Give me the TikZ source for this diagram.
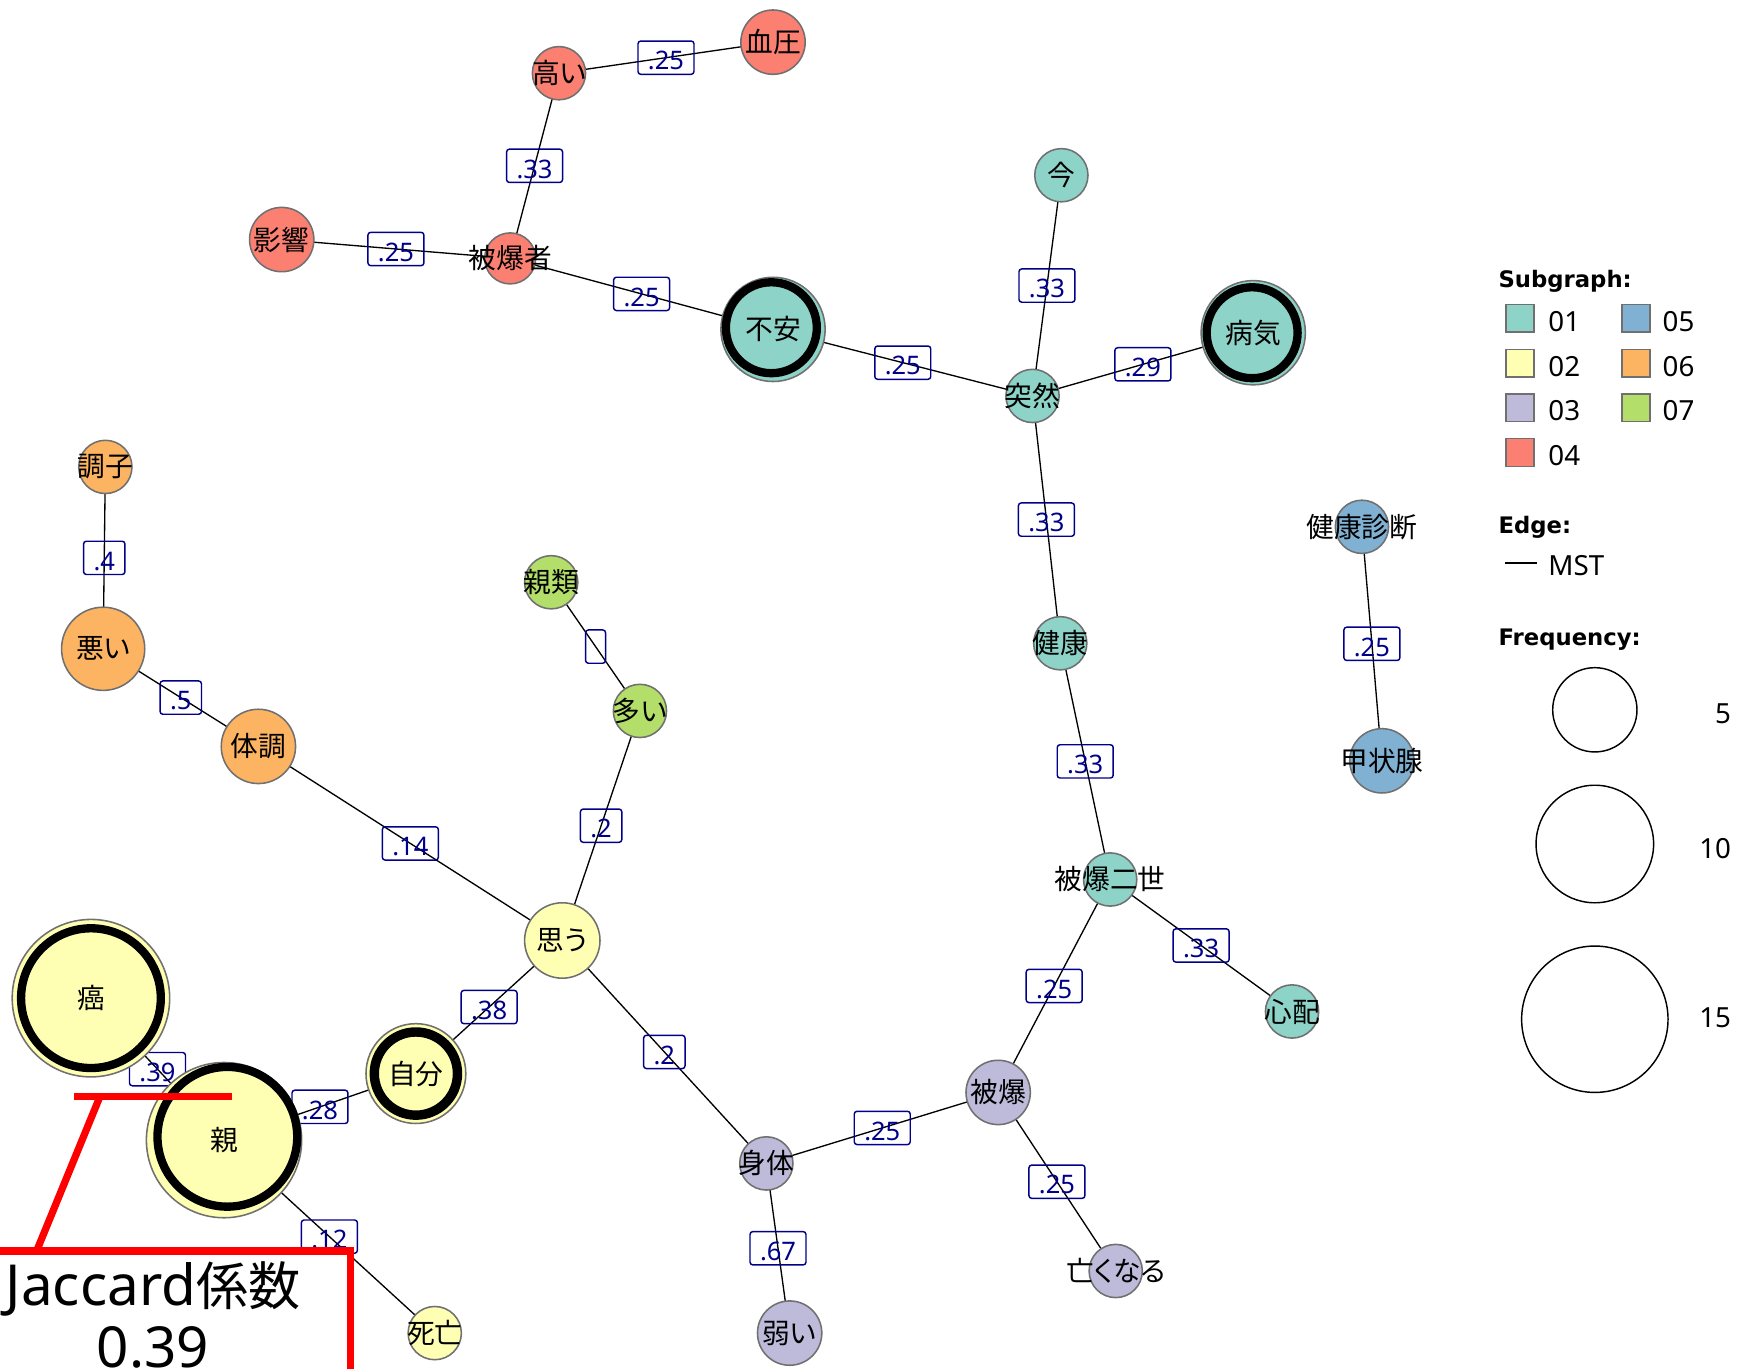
\documentclass[tikz,border=0pt]{standalone}
\usepackage{fontspec}
\setmainfont{Noto Sans}
\newfontfamily\jp{Noto Sans CJK JP}[RawFeature=+palt]
\newfontfamily\headfont{DejaVu Sans}
\pgfdeclarelayer{edgelayer}
\pgfsetlayers{edgelayer,main}
\definecolor{cA}{HTML}{8DD3C7}
\definecolor{cB}{HTML}{FFFFB3}
\definecolor{cC}{HTML}{BEBADA}
\definecolor{cD}{HTML}{FB8072}
\definecolor{cE}{HTML}{80B1D3}
\definecolor{cF}{HTML}{FDB462}
\definecolor{cG}{HTML}{B3DE69}
\definecolor{navyblue}{HTML}{00008B}
\definecolor{outlinegray}{HTML}{707070}
\newcommand{\zw}[1]{\makebox[0pt]{#1}}
\tikzset{
  word/.style={circle, draw=outlinegray, line width=1.4pt, inner sep=0pt,
    font=\jp\fontsize{25}{27}\selectfont},
  r23/.style={word, minimum size=46pt},
  r24/.style={word, minimum size=48pt},
  r29/.style={word, minimum size=58pt},
  mstedge/.style={draw=black, line width=1.2pt},
  elbl/.style={rectangle, rounded corners=2.5pt, draw=navyblue, text=navyblue,
    line width=1.3pt, inner xsep=9pt, inner ysep=4pt, text height=22pt, text depth=0pt,
    font=\fontsize{23}{24}\selectfont},
  ringline/.style={draw=black, line width=7.5pt},
  sq/.style={rectangle, draw=outlinegray, line width=1.5pt, minimum size=25pt, inner sep=0pt},
  lgtxt/.style={font=\fontsize{25}{27}\selectfont, inner sep=0pt},
  lghead/.style={font=\headfont\bfseries\fontsize{20.5}{24}\selectfont, inner sep=0pt},
  freq/.style={circle, draw=black, line width=1.3pt, inner sep=0pt},
  annot/.style={draw=red, line width=6.5pt},
}
\begin{document}
\begin{tikzpicture}[x=1pt,y=-1pt]
\useasboundingbox (0,0) rectangle (1568,1234);
\clip (0,0) rectangle (1568,1234);

% ---------- nodes ----------
\node[r29, fill=cD] (ketsuatsu) at (697,38) {\zw{血圧}};
\node[r24, fill=cD] (takai) at (504,66) {\zw{高い}};
\node[r29, fill=cD] (eikyo) at (254,216) {\zw{影響}};
\node[r23, fill=cD] (hibakusha) at (460,233) {\zw{被爆者}};

\node[word, minimum size=94pt, fill=cA] (fuan) at (697,297) {\zw{不安}};
\node[word, minimum size=94pt, fill=cA] (byoki) at (1130,300) {\zw{病気}};
\node[r24, fill=cA] (ima) at (957,158) {\zw{今}};
\node[r24, fill=cA] (totsuzen) at (931,357) {\zw{突然}};
\node[r24, fill=cA] (kenko) at (956,580) {\zw{健康}};
\node[r24, fill=cA] (nisei) at (1001,793) {\zw{被爆二世}};
\node[r24, fill=cA] (shinpai) at (1165,912) {\zw{心配}};

\node[r24, fill=cE] (shindan) at (1228,475) {\zw{健康診断}};
\node[r29, fill=cE] (koujo) at (1246,686) {\zw{甲状腺}};

\node[r24, fill=cF] (choshi) at (95,421) {\zw{調子}};
\node[word, minimum size=75pt, fill=cF] (warui) at (93,585) {\zw{悪い}};
\node[word, minimum size=67pt, fill=cF] (taicho) at (233,673) {\zw{体調}};

\node[r24, fill=cG] (shinrui) at (497,525) {\zw{親類}};
\node[r24, fill=cG] (ooi) at (577,641) {\zw{多い}};

\node[word, minimum size=68pt, fill=cB] (omou) at (507,848) {\zw{思う}};
\node[word, minimum size=142pt, fill=cB] (gan) at (82,900) {\zw{癌}};
\node[word, minimum size=140pt, fill=cB] (oya) at (202,1028) {\zw{親}};
\node[word, minimum size=90pt, fill=cB] (jibun) at (375,968) {\zw{自分}};
\node[r24, fill=cB] (shibo) at (392,1202) {\zw{死亡}};

\node[r29, fill=cC] (hibaku) at (900,985) {\zw{被爆}};
\node[r24, fill=cC] (shintai) at (691,1049) {\zw{身体}};
\node[r29, fill=cC] (yowai) at (712,1202) {\zw{弱い}};
\node[r24, fill=cC] (nakunaru) at (1006,1146) {\zw{亡くなる}};

% thick rings of the frequent words
\draw[ringline] ([shift={(-1.5,-1.5)}]fuan.center) circle[radius=41pt];
\draw[ringline] ([shift={(-1,0)}]byoki.center) circle[radius=41pt];
\draw[ringline] (gan.center) circle[radius=63pt];
\draw[ringline] ([shift={(3,-3)}]oya.center) circle[radius=63pt];
\draw[ringline, line width=8.5pt] (jibun.center) circle[radius=37.5pt];

% ---------- edges ----------
\begin{pgfonlayer}{edgelayer}
\draw[mstedge] (takai.center) -- node[elbl] {.25} (ketsuatsu.center);
\draw[mstedge] (takai.center) -- node[elbl] {.33} (hibakusha.center);
\draw[mstedge] (eikyo.center) -- node[elbl] {.25} (hibakusha.center);
\draw[mstedge] (hibakusha.center) -- node[elbl] {.25} (fuan.center);
\draw[mstedge] (fuan.center) -- node[elbl] {.25} (totsuzen.center);
\draw[mstedge] (ima.center) -- node[elbl] {.33} (totsuzen.center);
\draw[mstedge] (totsuzen.center) -- node[elbl] {.29} (byoki.center);
\draw[mstedge] (totsuzen.center) -- node[elbl] {.33} (kenko.center);
\draw[mstedge] (kenko.center) -- node[elbl] {.33} (nisei.center);
\draw[mstedge] (nisei.center) -- node[elbl] {.33} (shinpai.center);
\draw[mstedge] (nisei.center) -- node[elbl] {.25} (hibaku.center);
\draw[mstedge] (hibaku.center) -- node[elbl] {.25} (shintai.center);
\draw[mstedge] (hibaku.center) -- node[elbl] {.25} (nakunaru.center);
\draw[mstedge] (shintai.center) -- node[elbl] {.67} (yowai.center);
\draw[mstedge] (omou.center) -- node[elbl] {.2} (shintai.center);
\draw[mstedge] (omou.center) -- node[elbl] {.2} (ooi.center);
\draw[mstedge] (ooi.center) -- node[elbl] {} (shinrui.center);
\draw[mstedge] (choshi.center) -- node[elbl] {.4} (warui.center);
\draw[mstedge] (warui.center) -- node[elbl] {.5} (taicho.center);
\draw[mstedge] (taicho.center) -- node[elbl] {.14} (omou.center);
\draw[mstedge] (omou.center) -- node[elbl] {.38} (jibun.center);
\draw[mstedge] (jibun.center) -- node[elbl] {.28} (oya.center);
\draw[mstedge] (gan.center) -- node[elbl] {.39} (oya.center);
\draw[mstedge] (oya.center) -- node[elbl] {.12} (shibo.center);
\draw[mstedge] (shindan.center) -- node[elbl] {.25} (koujo.center);
\end{pgfonlayer}

% ---------- legend ----------
\node[lghead, anchor=base west] (hsub) at (1351,259) {Subgraph:};
\node[sq, fill=cA] (s01) at (1370.5,287) {};
\node[sq, fill=cB] (s02) at (1370.5,327.5) {};
\node[sq, fill=cC] (s03) at (1370.5,367.5) {};
\node[sq, fill=cD] (s04) at (1370.5,408) {};
\node[sq, fill=cE] (s05) at (1475,287) {};
\node[sq, fill=cF] (s06) at (1475,327.5) {};
\node[sq, fill=cG] (s07) at (1475,367.5) {};
\node[lgtxt, anchor=base west] (t01) at (1396,299) {01};
\node[lgtxt, anchor=base west] (t02) at (1396,339.5) {02};
\node[lgtxt, anchor=base west] (t03) at (1396,379.5) {03};
\node[lgtxt, anchor=base west] (t04) at (1396,420) {04};
\node[lgtxt, anchor=base west] (t05) at (1499,299) {05};
\node[lgtxt, anchor=base west] (t06) at (1499,339.5) {06};
\node[lgtxt, anchor=base west] (t07) at (1499,379.5) {07};

\node[lghead, anchor=base west] (hedge) at (1351,481) {Edge:};
\coordinate (mstA) at (1357,507.5);
\coordinate (mstB) at (1386,507.5);
\draw[line width=1.3pt] (mstA) -- (mstB);
\node[lgtxt, anchor=base west] (tmst) at (1396,518.5) {MST};

\node[lghead, anchor=base west] (hfreq) at (1351,582) {Frequency:};
\node[freq, minimum size=76pt] (f5) at (1438,640) {};
\node[freq, minimum size=106pt] (f10) at (1438,761) {};
\node[freq, minimum size=132pt] (f15) at (1438,919) {};
\node[lgtxt, anchor=base east] (t5) at (1561,652) {5};
\node[lgtxt, anchor=base east] (t10) at (1561,774) {10};
\node[lgtxt, anchor=base east] (t15) at (1561,926) {15};

% ---------- red annotation ----------
\coordinate (barL) at (67,989);
\coordinate (barR) at (209,989);
\coordinate (barJ) at (90,989);
\coordinate (boxJ) at (33,1128);
\coordinate (boxL) at (-5,1128);
\coordinate (boxR) at (316,1128);
\coordinate (boxB) at (316,1245);
\draw[annot] (barL) -- (barR);
\draw[annot] (barJ) -- (boxJ);
\draw[annot] (boxL) -- (boxR) -- (boxB);
\node[inner sep=0pt, anchor=base] (jac1) at (138,1177)
  {\fontsize{51}{55}\selectfont Jaccard{\jp\fontsize{47}{55}\selectfont 係数}};
\node[inner sep=0pt, anchor=base] (jac2) at (138,1233)
  {\fontsize{51}{55}\selectfont 0.39};
\end{tikzpicture}
\end{document}
